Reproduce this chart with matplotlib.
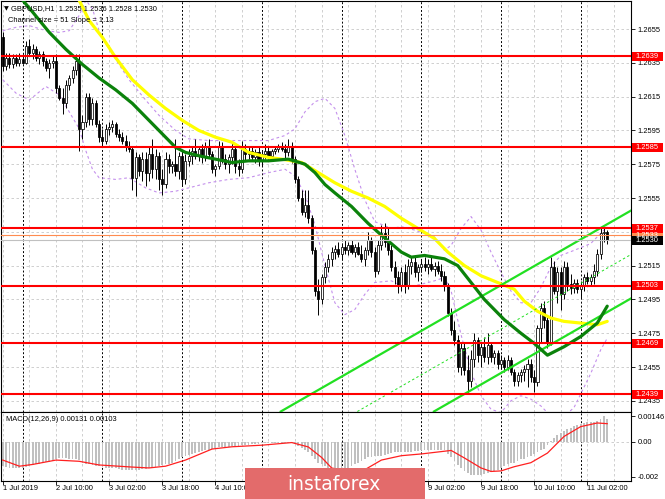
import numpy as np
import matplotlib
matplotlib.use('Agg')
import matplotlib.pyplot as plt
import matplotlib.transforms as mtransforms
from matplotlib.patches import Rectangle

plt.rcParams['font.family'] = ['Liberation Sans', 'DejaVu Sans']

# ---------------- data (GBPUSD H1, bar index 0 = 1 Jul 18:00) ----------------
open_ = [
    1.2650, 1.2633, 1.2638, 1.2634, 1.2638, 1.2635, 1.2637, 1.2635, 1.2645, 1.2641,
    1.2643, 1.2638, 1.2640, 1.2636, 1.2632, 1.2635, 1.2636, 1.2620, 1.2614, 1.2611,
    1.2622, 1.2626, 1.2631, 1.2636, 1.2596, 1.2600, 1.2615, 1.2602, 1.2611, 1.2599,
    1.2591, 1.2589, 1.2596, 1.2597, 1.2599, 1.2593, 1.2591, 1.2589, 1.2585, 1.2584,
    1.2567, 1.2579, 1.2571, 1.2578, 1.2570, 1.2581, 1.2572, 1.2580, 1.2566, 1.2563,
    1.2578, 1.2574, 1.2575, 1.2571, 1.2580, 1.2566, 1.2577, 1.2580, 1.2583, 1.2580,
    1.2584, 1.2579, 1.2585, 1.2581, 1.2572, 1.2574, 1.2586, 1.2578, 1.2575, 1.2579,
    1.2584, 1.2574, 1.2572, 1.2584, 1.2581, 1.2583, 1.2579, 1.2582, 1.2577, 1.2581,
    1.2583, 1.2580, 1.2583, 1.2584, 1.2585, 1.2584, 1.2582, 1.2586, 1.2578, 1.2566,
    1.2555, 1.2547, 1.2551, 1.2543, 1.2524, 1.2500, 1.2495, 1.2508, 1.2514, 1.2519,
    1.2523, 1.2525, 1.2522, 1.2526, 1.2524, 1.2527, 1.2523, 1.2526, 1.2522, 1.2519,
    1.2524, 1.2530, 1.2523, 1.2512, 1.2527, 1.2534, 1.2529, 1.2524, 1.2514, 1.2508,
    1.2503, 1.2511, 1.2503, 1.2515, 1.2517, 1.2511, 1.2514, 1.2516, 1.2514, 1.2516,
    1.2513, 1.2515, 1.2512, 1.2509, 1.2503, 1.2487, 1.2477, 1.2471, 1.2455, 1.2466,
    1.2453, 1.2447, 1.2460, 1.2471, 1.2462, 1.2467, 1.2461, 1.2468, 1.2461, 1.2463,
    1.2457, 1.2459, 1.2455, 1.2459, 1.2452, 1.2447, 1.2450, 1.2452, 1.2454, 1.2457,
    1.2449, 1.2446, 1.2478, 1.2490, 1.2483, 1.2470, 1.2514, 1.2500, 1.2511, 1.2498,
    1.2514, 1.2504, 1.2502, 1.2505, 1.2501, 1.2503, 1.2508, 1.2506, 1.2508, 1.2512,
    1.2522, 1.2534, 1.2535]
high = [
    1.2653, 1.2641, 1.2641, 1.2640, 1.2640, 1.2641, 1.2640, 1.2648, 1.2649, 1.2646,
    1.2645, 1.2642, 1.2642, 1.2638, 1.2637, 1.2639, 1.2640, 1.2622, 1.2620, 1.2625,
    1.2628, 1.2633, 1.2640, 1.2640, 1.2604, 1.2617, 1.2617, 1.2614, 1.2613, 1.2601,
    1.2596, 1.2599, 1.2600, 1.2601, 1.2600, 1.2596, 1.2594, 1.2592, 1.2589, 1.2586,
    1.2582, 1.2581, 1.2582, 1.2582, 1.2585, 1.2590, 1.2584, 1.2582, 1.2572, 1.2582,
    1.2581, 1.2577, 1.2590, 1.2582, 1.2583, 1.2581, 1.2584, 1.2585, 1.2590, 1.2586,
    1.2587, 1.2588, 1.2590, 1.2583, 1.2575, 1.2589, 1.2588, 1.2581, 1.2581, 1.2588,
    1.2587, 1.2578, 1.2589, 1.2587, 1.2585, 1.2586, 1.2584, 1.2585, 1.2583, 1.2587,
    1.2585, 1.2584, 1.2586, 1.2587, 1.2588, 1.2587, 1.2590, 1.2588, 1.2580, 1.2568,
    1.2560, 1.2560, 1.2560, 1.2545, 1.2526, 1.2507, 1.2510, 1.2517, 1.2522, 1.2526,
    1.2527, 1.2529, 1.2528, 1.2530, 1.2529, 1.2530, 1.2528, 1.2529, 1.2527, 1.2526,
    1.2535, 1.2532, 1.2526, 1.2530, 1.2539, 1.2540, 1.2538, 1.2527, 1.2518, 1.2512,
    1.2514, 1.2516, 1.2519, 1.2520, 1.2520, 1.2516, 1.2519, 1.2520, 1.2519, 1.2520,
    1.2517, 1.2518, 1.2516, 1.2512, 1.2505, 1.2490, 1.2482, 1.2474, 1.2470, 1.2469,
    1.2462, 1.2465, 1.2475, 1.2473, 1.2470, 1.2473, 1.2475, 1.2470, 1.2465, 1.2465,
    1.2462, 1.2461, 1.2462, 1.2461, 1.2454, 1.2452, 1.2454, 1.2456, 1.2460, 1.2460,
    1.2453, 1.2480, 1.2493, 1.2494, 1.2486, 1.2520, 1.2518, 1.2514, 1.2514, 1.2518,
    1.2517, 1.2510, 1.2507, 1.2507, 1.2506, 1.2510, 1.2511, 1.2510, 1.2516, 1.2525,
    1.2537, 1.2538, 1.2536]
low = [
    1.2630, 1.2631, 1.2632, 1.2632, 1.2633, 1.2633, 1.2634, 1.2634, 1.2639, 1.2637,
    1.2636, 1.2634, 1.2633, 1.2630, 1.2626, 1.2632, 1.2617, 1.2613, 1.2605, 1.2608,
    1.2619, 1.2623, 1.2628, 1.2583, 1.2590, 1.2597, 1.2598, 1.2598, 1.2597, 1.2588,
    1.2586, 1.2587, 1.2592, 1.2594, 1.2591, 1.2589, 1.2587, 1.2583, 1.2582, 1.2560,
    1.2556, 1.2568, 1.2565, 1.2562, 1.2565, 1.2567, 1.2566, 1.2560, 1.2557, 1.2561,
    1.2570, 1.2570, 1.2568, 1.2566, 1.2562, 1.2563, 1.2574, 1.2575, 1.2578, 1.2577,
    1.2576, 1.2577, 1.2579, 1.2570, 1.2568, 1.2572, 1.2576, 1.2572, 1.2570, 1.2575,
    1.2570, 1.2568, 1.2570, 1.2577, 1.2578, 1.2577, 1.2576, 1.2574, 1.2574, 1.2578,
    1.2578, 1.2578, 1.2581, 1.2582, 1.2583, 1.2578, 1.2580, 1.2576, 1.2564, 1.2553,
    1.2545, 1.2544, 1.2540, 1.2522, 1.2497, 1.2486, 1.2492, 1.2505, 1.2511, 1.2515,
    1.2519, 1.2520, 1.2519, 1.2522, 1.2521, 1.2522, 1.2520, 1.2521, 1.2517, 1.2515,
    1.2521, 1.2520, 1.2508, 1.2510, 1.2524, 1.2526, 1.2521, 1.2512, 1.2504, 1.2499,
    1.2500, 1.2499, 1.2501, 1.2510, 1.2508, 1.2506, 1.2511, 1.2512, 1.2510, 1.2512,
    1.2509, 1.2510, 1.2506, 1.2500, 1.2485, 1.2474, 1.2468, 1.2452, 1.2450, 1.2450,
    1.2439, 1.2443, 1.2455, 1.2458, 1.2455, 1.2458, 1.2457, 1.2458, 1.2457, 1.2454,
    1.2454, 1.2452, 1.2453, 1.2450, 1.2444, 1.2444, 1.2446, 1.2447, 1.2443, 1.2446,
    1.2440, 1.2444, 1.2470, 1.2478, 1.2466, 1.2468, 1.2498, 1.2493, 1.2489, 1.2495,
    1.2500, 1.2498, 1.2499, 1.2499, 1.2496, 1.2500, 1.2504, 1.2503, 1.2504, 1.2509,
    1.2519, 1.2529, 1.2528]
close = [
    1.2633, 1.2638, 1.2634, 1.2638, 1.2635, 1.2637, 1.2635, 1.2645, 1.2641, 1.2643,
    1.2638, 1.2640, 1.2636, 1.2632, 1.2635, 1.2636, 1.2620, 1.2614, 1.2611, 1.2622,
    1.2626, 1.2631, 1.2636, 1.2596, 1.2600, 1.2615, 1.2602, 1.2611, 1.2599, 1.2591,
    1.2589, 1.2596, 1.2597, 1.2599, 1.2593, 1.2591, 1.2589, 1.2585, 1.2584, 1.2567,
    1.2579, 1.2571, 1.2578, 1.2570, 1.2581, 1.2572, 1.2580, 1.2566, 1.2563, 1.2578,
    1.2574, 1.2575, 1.2571, 1.2580, 1.2566, 1.2577, 1.2580, 1.2583, 1.2580, 1.2584,
    1.2579, 1.2585, 1.2581, 1.2572, 1.2574, 1.2586, 1.2578, 1.2575, 1.2579, 1.2584,
    1.2574, 1.2572, 1.2584, 1.2581, 1.2583, 1.2579, 1.2582, 1.2577, 1.2581, 1.2583,
    1.2580, 1.2583, 1.2584, 1.2585, 1.2584, 1.2582, 1.2586, 1.2578, 1.2566, 1.2555,
    1.2547, 1.2551, 1.2543, 1.2524, 1.2500, 1.2495, 1.2508, 1.2514, 1.2519, 1.2523,
    1.2525, 1.2522, 1.2526, 1.2524, 1.2527, 1.2523, 1.2526, 1.2522, 1.2519, 1.2524,
    1.2530, 1.2523, 1.2512, 1.2527, 1.2534, 1.2529, 1.2524, 1.2514, 1.2508, 1.2503,
    1.2511, 1.2503, 1.2515, 1.2517, 1.2511, 1.2514, 1.2516, 1.2514, 1.2516, 1.2513,
    1.2515, 1.2512, 1.2509, 1.2503, 1.2487, 1.2477, 1.2471, 1.2455, 1.2466, 1.2453,
    1.2447, 1.2460, 1.2471, 1.2462, 1.2467, 1.2461, 1.2468, 1.2461, 1.2463, 1.2457,
    1.2459, 1.2455, 1.2459, 1.2452, 1.2447, 1.2450, 1.2452, 1.2454, 1.2457, 1.2449,
    1.2446, 1.2478, 1.2490, 1.2483, 1.2470, 1.2514, 1.2500, 1.2511, 1.2498, 1.2514,
    1.2504, 1.2502, 1.2505, 1.2501, 1.2503, 1.2508, 1.2506, 1.2508, 1.2512, 1.2522,
    1.2534, 1.2535, 1.2530]

# moving averages (read at selected bars)
ma_green_bars = [3, 6, 9, 14, 19, 24, 29, 34, 39, 44, 49, 52, 55, 59, 64, 69, 74, 80, 86, 91,
                 94, 97, 100, 105, 110, 114, 117, 120, 123, 127, 133, 137, 141, 145, 151,
                 156, 160, 164, 169, 174, 179, 182]
ma_green = [1.2678, 1.2672, 1.2665, 1.2653, 1.2643, 1.2634, 1.2626, 1.2619, 1.2611, 1.2601,
            1.2591, 1.2585, 1.2582, 1.2580, 1.2578, 1.2576, 1.2577, 1.2577, 1.2578, 1.2575,
            1.2570, 1.2563, 1.2558, 1.2550, 1.2540, 1.2533, 1.2528, 1.2523, 1.2520, 1.2521,
            1.2519, 1.2515, 1.2505, 1.2495, 1.2483, 1.2475, 1.2469, 1.2462, 1.2467, 1.2473,
            1.2481, 1.2491]
ma_yellow_bars = [22, 26, 30, 34, 39, 44, 49, 54, 59, 64, 69, 74, 80, 84, 90, 95, 100, 105,
                  110, 115, 120, 125, 130, 134, 139, 144, 149, 154, 157, 161, 165, 169, 174,
                  179, 182]
ma_yellow = [1.2676, 1.2660, 1.2650, 1.2638, 1.2625, 1.2616, 1.2608, 1.2601, 1.2595, 1.2591,
             1.2588, 1.2582, 1.2579, 1.2578, 1.2576, 1.2570, 1.2564, 1.2559, 1.2555, 1.2550,
             1.2543, 1.2537, 1.2531, 1.2523, 1.2515, 1.2509, 1.2505, 1.2501, 1.2494, 1.2488,
             1.2484, 1.2482, 1.2481, 1.2480, 1.2482]

# envelope bands (dashed violet)
band_bars = [0, 4, 8, 13, 17, 20, 23, 25, 27, 29, 34, 38, 43, 47, 52, 56, 62, 68, 74, 80,
             85, 88, 91, 94, 97, 100, 103, 106, 109, 112, 117, 120, 124, 130, 133, 135, 138,
             141, 144, 147, 150, 153, 156, 159, 162, 165, 168, 172, 177, 180, 182]
band_upper = [1.2654, 1.2656, 1.2657, 1.2654, 1.2653, 1.2654, 1.2663, 1.2672, 1.2667, 1.2654,
              1.2637, 1.2625, 1.2613, 1.2604, 1.2595, 1.2590, 1.2589, 1.2589, 1.2589, 1.2589,
              1.2592, 1.2596, 1.2606, 1.2612, 1.2614, 1.2608, 1.2592, 1.2572, 1.2554, 1.2541,
              1.2537, 1.2538, 1.2536, 1.2532, 1.2524, 1.2527, 1.2537, 1.2544, 1.2536, 1.2523,
              1.2511, 1.2500, 1.2493, 1.2493, 1.2502, 1.2514, 1.2521, 1.2524, 1.2528, 1.2534,
              1.2538]
band_lower = [1.2625, 1.2617, 1.2613, 1.2621, 1.2616, 1.2606, 1.2596, 1.2583, 1.2572, 1.2567,
              1.2566, 1.2567, 1.2561, 1.2558, 1.2559, 1.2561, 1.2564, 1.2566, 1.2567, 1.2570,
              1.2572, 1.2568, 1.2557, 1.2539, 1.2515, 1.2493, 1.2486, 1.2489, 1.2498, 1.2505,
              1.2506, 1.2503, 1.2503, 1.2506, 1.2508, 1.2500, 1.2474, 1.2452, 1.2438, 1.2430,
              1.2428, 1.2435, 1.2438, 1.2436, 1.2432, 1.2426, 1.2424, 1.2431, 1.2451, 1.2465,
              1.2472]

# regression channel (Channel size = 51, Slope = 1.13)
channel_bars = [131, 182]
channel_upper = [1.2482, 1.25395]
channel_mid = [1.2456, 1.25135]
channel_lower = [1.2430, 1.24875]

# horizontal levels
levels_red = [1.2639, 1.2585, 1.2537, 1.2503, 1.2469, 1.2439]
level_orange = 1.2533
bid_price = 1.2530

# MACD(12,26,9)
macd_hist = (
    [-0.0014, -0.00145, -0.0015, -0.0015, -0.0015, -0.0015]
    + [-0.00148, -0.00145, -0.0014, -0.00135, -0.0013, -0.00125, -0.0012, -0.00118, -0.00115, -0.0011]
    + [-0.001, -0.00095, -0.00095, -0.00095, -0.001, -0.001, -0.001, -0.00105, -0.0012]
    + [-0.0013, -0.0013, -0.00135, -0.0014, -0.0014, -0.00145, -0.0015, -0.0015]
    + [-0.0015, -0.0015, -0.00155, -0.0016, -0.0016, -0.0016, -0.0016, -0.0016, -0.0016,
       -0.00158, -0.00155, -0.0015, -0.00148, -0.00145]
    + [-0.0014, -0.00135, -0.0013, -0.00125, -0.0012, -0.0011, -0.001, -0.0009, -0.0008]
    + [-0.00075, -0.0007, -0.00065, -0.0006, -0.00055, -0.0005, -0.00045, -0.0004, -0.00035]
    + [-0.00032, -0.0003, -0.0003, -0.00028, -0.00025, -0.00025, -0.00022, -0.0002, -0.0002,
       -0.00018, -0.00015, -0.00015, -0.00012, -0.0001, -0.0001]
    + [-0.0001, -0.00008, -0.00008, -0.00006, -0.00006, -0.00005, -0.00005, -0.0001]
    + [-0.00015, -0.00025, -0.00035, -0.00045]
    + [-0.0006, -0.0008, -0.001, -0.0012, -0.0013, -0.0014]
    + [-0.0015, -0.0016, -0.0017, -0.0017, -0.0017, -0.0016, -0.0015, -0.0014, -0.0013, -0.0012]
    + [-0.0011, -0.001, -0.0009, -0.00085, -0.0008, -0.0008]
    + [-0.0008, -0.00075, -0.0007, -0.00065, -0.0006, -0.0006, -0.0006, -0.0006, -0.0006,
       -0.00058, -0.00055, -0.00055, -0.0005]
    + [-0.0005, -0.0005, -0.0005, -0.0005, -0.00048, -0.0005, -0.0005]
    + [-0.0007, -0.0009, -0.0011, -0.00135]
    + [-0.0015, -0.0017, -0.0018, -0.0019, -0.0019, -0.0019]
    + [-0.0019, -0.00185, -0.0018, -0.00175, -0.0017, -0.0016, -0.0015, -0.0014, -0.0013, -0.0012]
    + [-0.0012, -0.0011, -0.001, -0.001, -0.0009, -0.0008, -0.0007, -0.0006, -0.0005, -0.0004, -0.0002]
    + [0.00002]
    + [0.0002, 0.0004, 0.0005, 0.0006, 0.0007]
    + [0.0008, 0.0009, 0.00095, 0.001]
    + [0.00105, 0.0011, 0.0011, 0.00115, 0.0012, 0.0013, 0.00146, 0.00131])
signal_bars = [0, 5, 9, 16, 23, 29, 39, 44, 49, 55, 63, 69, 78, 87, 92, 96, 99, 105, 109,
               114, 120, 126, 135, 139, 144, 147, 150, 154, 159, 164, 169, 174, 179, 182]
signal = [-0.00105, -0.0014, -0.0013, -0.00105, -0.00112, -0.00133, -0.00145, -0.0015,
          -0.0014, -0.00105, -0.00042, -0.00029, -0.0002, -0.00005, -0.0003, -0.0009,
          -0.0015, -0.00175, -0.0016, -0.00105, -0.0008, -0.0007, -0.0005, -0.00093,
          -0.0015, -0.0017, -0.00167, -0.00143, -0.0012, -0.00065, 0.0003, 0.00086,
          0.00107, 0.00103]

tick_bars = [0, 16, 32, 48, 64, 80, 96, 112, 128, 144, 160, 176]
tick_labels = ['1 Jul 2019', '2 Jul 10:00', '3 Jul 02:00', '3 Jul 18:00', '4 Jul 10:00',
               '5 Jul 02:00', '5 Jul 18:00', '8 Jul 10:00', '9 Jul 02:00', '9 Jul 18:00',
               '10 Jul 10:00', '11 Jul 02:00']
day_separators = [6, 30, 54, 78, 102, 126, 150, 174]
price_ticks = [1.2435, 1.2455, 1.2475, 1.2495, 1.2515, 1.2535, 1.2555, 1.2575, 1.2595,
               1.2615, 1.2635, 1.2655]
hidden_tick_labels = [1.2535]   # covered by the level boxes in the reference

# ---------------- figure ----------------
W, H = 665, 499
fig = plt.figure(figsize=(W / 100, H / 100), dpi=100)
fig.patch.set_facecolor('white')


def frame(x0, y0, x1, y1):
    return [x0 / W, 1 - y1 / H, (x1 - x0) / W, (y1 - y0) / H]


ax = fig.add_axes(frame(0.5, 1.0, 630.7, 411.5))
axm = fig.add_axes(frame(0.5, 412.0, 630.7, 481.0), sharex=ax)

FS = 5.4
GRID = '#C8C8C8'

for a in (ax, axm):
    for s in a.spines.values():
        s.set_linewidth(0.8)
        s.set_color('black')
    a.set_facecolor('white')
    for gb in range(0, 190, 8):
        a.axvline(gb, color=GRID, lw=0.6, ls=(0, (3, 3)), zorder=0.5)
    for ds in day_separators:
        a.axvline(ds, color='black', lw=0.7, ls=(0, (2, 2)), zorder=0.8)

ax.set_xlim(-0.69, 189.07)
ax.set_ylim(1.242867, 1.267157)
axm.set_ylim(-0.002246, 0.001697)

for pt in price_ticks:
    ax.axhline(pt, color=GRID, lw=0.6, ls=(0, (3, 3)), zorder=0.5)
axm.axhline(0.0, color=GRID, lw=0.6, ls=(0, (3, 3)), zorder=0.5)

# bands
ax.plot(band_bars, band_upper, color='#C490EC', lw=0.8, ls=(0, (2.5, 2.5)), zorder=2)
ax.plot(band_bars, band_lower, color='#C490EC', lw=0.8, ls=(0, (2.5, 2.5)), zorder=2)

# candles
n = min(len(open_), len(high), len(low), len(close))
xs = np.arange(n)
o = np.array(open_[:n]); h = np.array(high[:n]); l = np.array(low[:n]); c = np.array(close[:n])
ax.vlines(xs, l, h, color='black', lw=0.7, zorder=3)
bottoms = np.minimum(o, c)
heights = np.maximum(np.abs(c - o), 0.00004)
body_colors = ['white' if cc >= oo else 'black' for oo, cc in zip(o, c)]
ax.bar(xs, heights, bottom=bottoms, width=0.62, color=body_colors, edgecolor='black',
       linewidth=0.55, zorder=4)

# moving averages
ax.plot(ma_yellow_bars, ma_yellow, color='#FFFF00', lw=2.3, zorder=5, solid_capstyle='round')
ax.plot(ma_green_bars, ma_green, color='#0B820B', lw=2.3, zorder=5.5, solid_capstyle='round')

# regression channel
ax.axline((channel_bars[0], channel_upper[0]), (channel_bars[1], channel_upper[1]),
          color='#22E022', lw=1.6, zorder=5)
ax.axline((channel_bars[0], channel_lower[0]), (channel_bars[1], channel_lower[1]),
          color='#22E022', lw=1.6, zorder=5)
ax.axline((channel_bars[0], channel_mid[0]), (channel_bars[1], channel_mid[1]),
          color='#22E022', lw=0.7, ls=(0, (2.5, 2.5)), zorder=5)

# levels
ax.axhline(bid_price, color='#C0C0C0', lw=0.8, zorder=5.8)
ax.axhline(level_orange, color='#FF8C50', lw=0.8, zorder=5.9)
for lv in levels_red:
    ax.axhline(lv, color='#FF0000', lw=1.5, zorder=6)

# right price axis
ax.yaxis.tick_right()
ax.set_yticks(price_ticks)
ax.set_yticklabels(['' if v in hidden_tick_labels else '%.4f' % v for v in price_ticks])
ax.tick_params(axis='y', length=3, width=0.6, pad=2, labelsize=FS, direction='out')
ax.tick_params(axis='x', length=0, labelbottom=False)

# level label boxes
tr = mtransforms.blended_transform_factory(fig.transFigure, ax.transData)
box_h = 9.0 / 16900.0


def level_box(val, face, txt_color='white'):
    ax.add_patch(Rectangle((632 / W, val - box_h / 2), 31 / W, box_h, transform=tr,
                           facecolor=face, edgecolor='none', clip_on=False, zorder=10))
    ax.text(635 / W, val, '%.4f' % val, transform=tr, color=txt_color, fontsize=FS,
            ha='left', va='center', clip_on=False, zorder=11)


level_box(level_orange, '#FF8C50')
for lv in levels_red:
    level_box(lv, '#FF0000')
level_box(bid_price, 'black')

# MACD panel
axm.bar(np.arange(len(macd_hist)), macd_hist, width=0.55, color='#C0C0C0', zorder=2)
axm.plot(signal_bars, signal, color='#FF2020', lw=0.9, zorder=3)
axm.yaxis.tick_right()
axm.set_yticks([0.00146, 0.0, -0.002])
axm.set_yticklabels(['0.00146', '0.00', '-0.002'])
axm.tick_params(axis='y', length=3, width=0.6, pad=2, labelsize=FS, direction='out')
axm.set_xticks(tick_bars)
axm.tick_params(axis='x', length=3, width=0.6, direction='out', labelbottom=False)

trx = mtransforms.blended_transform_factory(axm.transData, fig.transFigure)
for tb, tl in zip(tick_bars, tick_labels):
    fig.text(tb, 1 - 489 / H, tl, transform=trx, fontsize=FS, ha='left', va='center')

# header texts
fig.text(4 / W, 1 - 8.5 / H, '\u25bc', fontsize=4.5, ha='left', va='center',
         family=['DejaVu Sans'])
fig.text(11 / W, 1 - 8.5 / H, 'GBPUSD,H1  1.2535 1.2536 1.2528 1.2530', fontsize=FS,
         ha='left', va='center')
fig.text(8 / W, 1 - 20 / H, 'Channel size = 51 Slope = 1.13', fontsize=FS,
         ha='left', va='center')
fig.text(6 / W, 1 - 419.5 / H, 'MACD(12,26,9) 0.00131 0.00103', fontsize=FS,
         ha='left', va='center')

# watermark logo
fig.patches.append(Rectangle((245 / W, 0), 180 / W, 31 / H, transform=fig.transFigure,
                             facecolor='#E36B6B', edgecolor='none', zorder=20))
fig.text(334 / W, 1 - 484.5 / H, 'instaforex', color='white', fontsize=13.5,
         ha='center', va='center', zorder=21, family=['DejaVu Sans'])

fig.savefig('out.png', dpi=100, facecolor='white')
